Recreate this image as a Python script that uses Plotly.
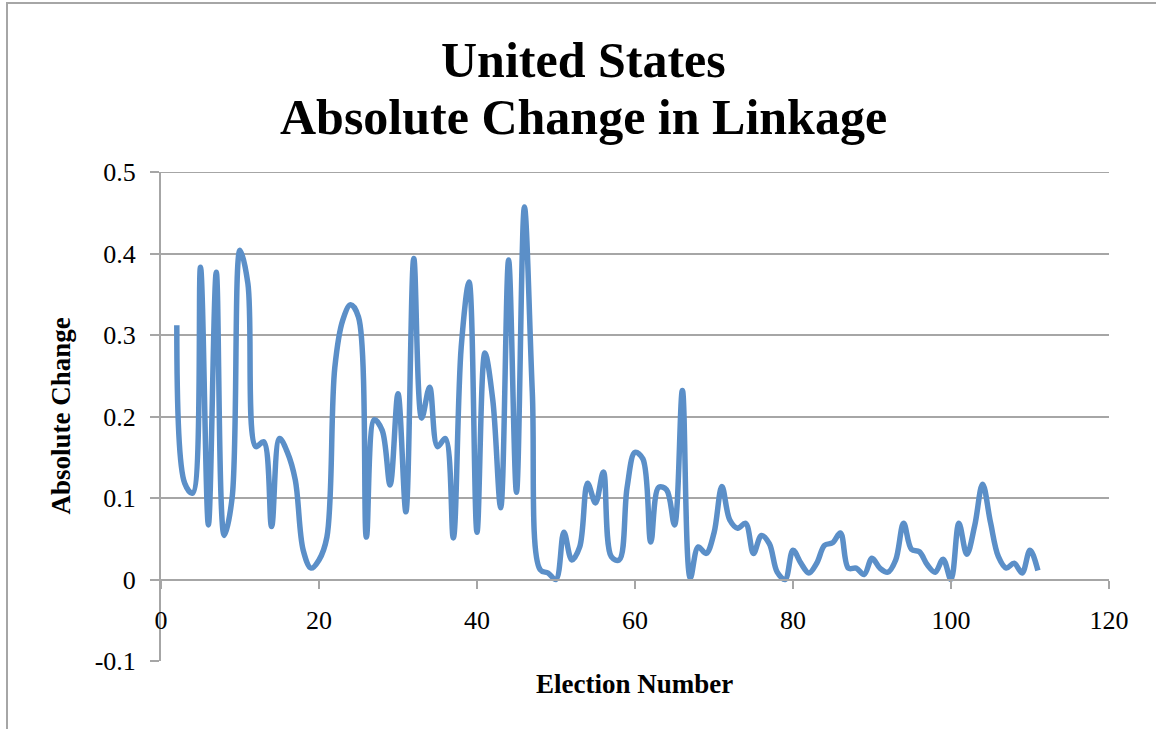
import plotly.graph_objects as go

# Election number and absolute change in linkage (United States)
election_number = list(range(2, 112))
absolute_change = [
    0.312, 0.118, 0.106, 0.383, 0.067, 0.377, 0.054, 0.100, 0.404, 0.363,   # 2-11
    0.163, 0.169, 0.065, 0.173, 0.156, 0.122, 0.036, 0.014, 0.024, 0.052,   # 12-21
    0.260, 0.318, 0.337, 0.322, 0.052, 0.196, 0.183, 0.116, 0.228, 0.083,   # 22-31
    0.394, 0.198, 0.236, 0.163, 0.173, 0.051, 0.285, 0.365, 0.058, 0.278,   # 32-41
    0.220, 0.088, 0.392, 0.107, 0.457, 0.230, 0.012, 0.008, 0.000, 0.058,   # 42-51
    0.024, 0.040, 0.118, 0.094, 0.132, 0.028, 0.024, 0.113, 0.156, 0.148,   # 52-61
    0.046, 0.113, 0.110, 0.067, 0.232, 0.002, 0.040, 0.032, 0.057, 0.114,   # 62-71
    0.073, 0.063, 0.069, 0.032, 0.054, 0.044, 0.009, 0.000, 0.036, 0.020,   # 72-81
    0.008, 0.020, 0.042, 0.045, 0.057, 0.014, 0.014, 0.006, 0.026, 0.014,   # 82-91
    0.009, 0.024, 0.069, 0.037, 0.034, 0.018, 0.009, 0.025, 0.000, 0.069,   # 92-101
    0.031, 0.066, 0.117, 0.070, 0.028, 0.014, 0.020, 0.008, 0.036, 0.011,   # 102-111
]

title_lines = ["United States", "Absolute Change in Linkage"]
y_tick_values = [-0.1, 0, 0.1, 0.2, 0.3, 0.4, 0.5]
y_tick_labels = ["-0.1", "0", "0.1", "0.2", "0.3", "0.4", "0.5"]
x_tick_values = [0, 20, 40, 60, 80, 100, 120]

SERIF = "Liberation Serif, Times New Roman, serif"
GRID = "#a6a6a6"

W, H = 1156, 729
ML, MR, MT, MB = 161, 47, 172, 68
plot_w = W - ML - MR
plot_h = H - MT - MB


def px_x(px):
    return (px - ML) / plot_w


def px_y(py):
    return (H - MB - py) / plot_h


fig = go.Figure()
fig.add_trace(go.Scatter(
    x=election_number,
    y=absolute_change,
    mode="lines",
    line=dict(color="#5b8fc8", width=5.5, shape="spline", smoothing=1.0),
    hoverinfo="x+y",
    showlegend=False,
))

annotations = [
    dict(
        text=f"<b>{line}</b>",
        xref="paper", yref="paper",
        x=px_x(583), y=px_y(cy),
        xanchor="center", yanchor="middle",
        showarrow=False,
        font=dict(family=SERIF, size=50, color="black"),
    )
    for line, cy in zip(title_lines, [60, 117])
]
annotations += [
    dict(
        text="<b>Absolute Change</b>",
        xref="paper", yref="paper",
        x=px_x(60), y=0.5,
        xanchor="center", yanchor="middle",
        textangle=-90, showarrow=False,
        font=dict(family=SERIF, size=27, color="black"),
    ),
    dict(
        text="<b>Election Number</b>",
        xref="paper", yref="paper",
        x=px_x(634), y=px_y(684),
        xanchor="center", yanchor="middle",
        showarrow=False,
        font=dict(family=SERIF, size=27, color="black"),
    ),
]

fig.update_layout(
    width=W,
    height=H,
    margin=dict(l=ML, r=MR, t=MT, b=MB),
    paper_bgcolor="white",
    plot_bgcolor="white",
    font=dict(family=SERIF, size=26, color="black"),
    xaxis=dict(
        range=[0, 120],
        tickvals=x_tick_values,
        showgrid=False,
        zeroline=False,
        showline=True,
        linecolor=GRID,
        linewidth=2,
        ticks="outside",
        ticklen=8,
        tickwidth=2,
        tickcolor=GRID,
        anchor="free",
        position=1 / 6,
        ticklabelstandoff=9,
        tickfont=dict(family=SERIF, size=26),
    ),
    yaxis=dict(
        range=[-0.1, 0.5],
        tickvals=y_tick_values,
        ticktext=y_tick_labels,
        showgrid=True,
        gridcolor=GRID,
        gridwidth=2,
        zeroline=False,
        showline=True,
        linecolor=GRID,
        linewidth=2,
        ticks="outside",
        ticklen=9,
        tickwidth=2,
        tickcolor=GRID,
        ticklabelstandoff=9,
        tickfont=dict(family=SERIF, size=26),
    ),
    annotations=annotations,
    shapes=[
        # chart frame
        dict(
            type="rect", xref="paper", yref="paper",
            x0=px_x(7), x1=px_x(W + 20),
            y0=px_y(H + 20), y1=px_y(3),
            line=dict(color=GRID, width=2), fillcolor="rgba(0,0,0,0)",
            layer="below",
        ),
        # top gridline at 0.5
        dict(
            type="line", xref="paper", yref="y",
            x0=0, x1=1, y0=0.5, y1=0.5,
            line=dict(color=GRID, width=2), layer="below",
        ),
    ],
)

fig.write_html("out.html")
